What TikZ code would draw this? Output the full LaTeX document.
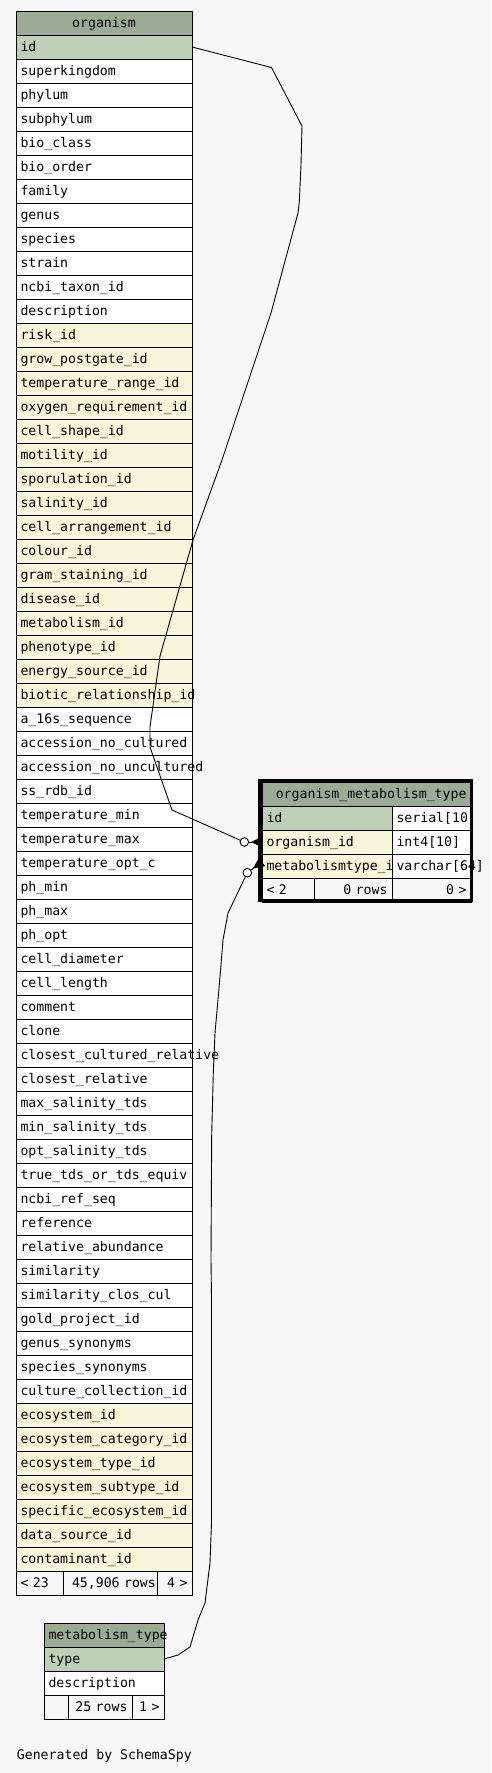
\documentclass[tikz,border=0pt]{standalone}
\usepackage{fontspec}
\usepackage{tikz}
\usetikzlibrary{arrows.meta}
\usepackage{xcolor}
\newfontfamily\schemafont{DejaVu Sans Mono}[HyphenChar=None, WordSpace={1,0,0}]
\definecolor{headcolor}{HTML}{9BAB96}
\definecolor{pkcolor}{HTML}{BED1B8}
\definecolor{fkcolor}{HTML}{F4F7DA}
\definecolor{bgcolor}{HTML}{F7F7F7}

\begin{document}
\begin{tikzpicture}[x=1pt, y=-1pt]
  \tikzset{
    cell/.style={
      draw,
      line width=1pt,
      fill=white,
      anchor=west,
      minimum height=24pt,
      text height=11pt,
      text depth=2pt,
      inner ysep=5.5pt,
      inner xsep=4.5pt,
      outer sep=0pt,
      align=left,
      font=\schemafont\fontsize{13.2pt}{15pt}\selectfont
    },
    pkcell/.style={cell, fill=pkcolor},
    fkcell/.style={cell, fill=fkcolor},
    headcell/.style={cell, fill=headcolor, align=center},
    footcell/.style={cell, fill=bgcolor},
    org/.style={text width=167pt},
    odot/.style={
      draw,
      circle,
      line width=0.9pt,
      fill=white,
      minimum size=8.6pt,
      inner sep=0pt
    },
    rel/.style={line width=0.9pt},
    crowfoot/.style={line width=0.9pt, -{Triangle[reversed, length=11pt, width=10pt]}},
    focus/.style={draw, line width=3.4pt},
    credit/.style={
      anchor=base west,
      inner sep=0pt,
      font=\schemafont\fontsize{13.2pt}{15pt}\selectfont
    }
  }

  \useasboundingbox (0,0) rectangle (491,1773);
  \fill[bgcolor] (0,0) rectangle (491,1773);

  % Table organism
  \node[headcell, org] at (16, 23) (org-head) {organism};
  \node[pkcell, org] at (16, 47) (org-id) {id};
  \node[cell, org] at (16, 71) (org-superkingdom) {superkingdom};
  \node[cell, org] at (16, 95) (org-phylum) {phylum};
  \node[cell, org] at (16, 119) (org-subphylum) {subphylum};
  \node[cell, org] at (16, 143) (org-bio-class) {bio\_class};
  \node[cell, org] at (16, 167) (org-bio-order) {bio\_order};
  \node[cell, org] at (16, 191) (org-family) {family};
  \node[cell, org] at (16, 215) (org-genus) {genus};
  \node[cell, org] at (16, 239) (org-species) {species};
  \node[cell, org] at (16, 263) (org-strain) {strain};
  \node[cell, org] at (16, 287) (org-ncbi-taxon-id) {ncbi\_taxon\_id};
  \node[cell, org] at (16, 311) (org-description) {description};
  \node[fkcell, org] at (16, 335) (org-risk-id) {risk\_id};
  \node[fkcell, org] at (16, 359) (org-grow-postgate-id) {grow\_postgate\_id};
  \node[fkcell, org] at (16, 383) (org-temperature-range-id) {temperature\_range\_id};
  \node[fkcell, org] at (16, 407) (org-oxygen-requirement-id) {oxygen\_requirement\_id};
  \node[fkcell, org] at (16, 431) (org-cell-shape-id) {cell\_shape\_id};
  \node[fkcell, org] at (16, 455) (org-motility-id) {motility\_id};
  \node[fkcell, org] at (16, 479) (org-sporulation-id) {sporulation\_id};
  \node[fkcell, org] at (16, 503) (org-salinity-id) {salinity\_id};
  \node[fkcell, org] at (16, 527) (org-cell-arrangement-id) {cell\_arrangement\_id};
  \node[fkcell, org] at (16, 551) (org-colour-id) {colour\_id};
  \node[fkcell, org] at (16, 575) (org-gram-staining-id) {gram\_staining\_id};
  \node[fkcell, org] at (16, 599) (org-disease-id) {disease\_id};
  \node[fkcell, org] at (16, 623) (org-metabolism-id) {metabolism\_id};
  \node[fkcell, org] at (16, 647) (org-phenotype-id) {phenotype\_id};
  \node[fkcell, org] at (16, 671) (org-energy-source-id) {energy\_source\_id};
  \node[fkcell, org] at (16, 695) (org-biotic-relationship-id) {biotic\_relationship\_id};
  \node[cell, org] at (16, 719) (org-a-16s-sequence) {a\_16s\_sequence};
  \node[cell, org] at (16, 743) (org-accession-no-cultured) {accession\_no\_cultured};
  \node[cell, org] at (16, 767) (org-accession-no-uncultured) {accession\_no\_uncultured};
  \node[cell, org] at (16, 791) (org-ss-rdb-id) {ss\_rdb\_id};
  \node[cell, org] at (16, 815) (org-temperature-min) {temperature\_min};
  \node[cell, org] at (16, 839) (org-temperature-max) {temperature\_max};
  \node[cell, org] at (16, 863) (org-temperature-opt-c) {temperature\_opt\_c};
  \node[cell, org] at (16, 887) (org-ph-min) {ph\_min};
  \node[cell, org] at (16, 911) (org-ph-max) {ph\_max};
  \node[cell, org] at (16, 935) (org-ph-opt) {ph\_opt};
  \node[cell, org] at (16, 959) (org-cell-diameter) {cell\_diameter};
  \node[cell, org] at (16, 983) (org-cell-length) {cell\_length};
  \node[cell, org] at (16, 1007) (org-comment) {comment};
  \node[cell, org] at (16, 1031) (org-clone) {clone};
  \node[cell, org] at (16, 1055) (org-closest-cultured-relative) {closest\_cultured\_relative};
  \node[cell, org] at (16, 1079) (org-closest-relative) {closest\_relative};
  \node[cell, org] at (16, 1103) (org-max-salinity-tds) {max\_salinity\_tds};
  \node[cell, org] at (16, 1127) (org-min-salinity-tds) {min\_salinity\_tds};
  \node[cell, org] at (16, 1151) (org-opt-salinity-tds) {opt\_salinity\_tds};
  \node[cell, org] at (16, 1175) (org-true-tds-or-tds-equiv) {true\_tds\_or\_tds\_equiv};
  \node[cell, org] at (16, 1199) (org-ncbi-ref-seq) {ncbi\_ref\_seq};
  \node[cell, org] at (16, 1223) (org-reference) {reference};
  \node[cell, org] at (16, 1247) (org-relative-abundance) {relative\_abundance};
  \node[cell, org] at (16, 1271) (org-similarity) {similarity};
  \node[cell, org] at (16, 1295) (org-similarity-clos-cul) {similarity\_clos\_cul};
  \node[cell, org] at (16, 1319) (org-gold-project-id) {gold\_project\_id};
  \node[cell, org] at (16, 1343) (org-genus-synonyms) {genus\_synonyms};
  \node[cell, org] at (16, 1367) (org-species-synonyms) {species\_synonyms};
  \node[cell, org] at (16, 1391) (org-culture-collection-id) {culture\_collection\_id};
  \node[fkcell, org] at (16, 1415) (org-ecosystem-id) {ecosystem\_id};
  \node[fkcell, org] at (16, 1439) (org-ecosystem-category-id) {ecosystem\_category\_id};
  \node[fkcell, org] at (16, 1463) (org-ecosystem-type-id) {ecosystem\_type\_id};
  \node[fkcell, org] at (16, 1487) (org-ecosystem-subtype-id) {ecosystem\_subtype\_id};
  \node[fkcell, org] at (16, 1511) (org-specific-ecosystem-id) {specific\_ecosystem\_id};
  \node[fkcell, org] at (16, 1535) (org-data-source-id) {data\_source\_id};
  \node[fkcell, org] at (16, 1559) (org-contaminant-id) {contaminant\_id};
  \node[footcell, text width=38pt] at (16, 1583) (org-foot-l) {<~23};
  \node[footcell, text width=76pt, inner xsep=9pt, align=right] at (63, 1583) (org-foot-m) {45,906~rows};
  \node[footcell, text width=26pt, align=right] at (157, 1583) (org-foot-r) {4~>};

  % Table organism_metabolism_type
  \node[headcell, text width=200pt, align=right] at (262, 794) (omt-head) {organism\_metabolism\_type};
  \node[pkcell, text width=121pt] at (262, 818) (omt-id) {id};
  \node[cell, text width=70pt] at (392, 818) (omt-id-type) {serial[10]};
  \node[fkcell, text width=121pt] at (262, 842) (omt-org) {organism\_id};
  \node[cell, text width=70pt] at (392, 842) (omt-org-type) {int4[10]};
  \node[fkcell, text width=121pt] at (262, 866) (omt-mt) {metabolismtype\_id};
  \node[cell, text width=70pt] at (392, 866) (omt-mt-type) {varchar[64]};
  \node[footcell, text width=43pt] at (262, 890) (omt-foot-l) {<~2};
  \node[footcell, text width=69pt, align=right] at (314, 890) (omt-foot-m) {0~rows};
  \node[footcell, text width=70pt, align=right] at (392, 890) (omt-foot-r) {0~>};
  \draw[focus] ([shift={(-2.2pt,1.2pt)}]omt-head.north west) rectangle ([shift={(0.7pt,1.4pt)}]omt-foot-r.south east);

  % Table metabolism_type
  \node[headcell, text width=111pt] at (44, 1635) (mt-head) {metabolism\_type};
  \node[pkcell, text width=111pt] at (44, 1659) (mt-type) {type};
  \node[cell, text width=111pt] at (44, 1683) (mt-description) {description};
  \node[footcell, text width=15pt] at (44, 1707) (mt-foot-l) {};
  \node[footcell, text width=55pt, align=right] at (68, 1707) (mt-foot-m) {25~rows};
  \node[footcell, text width=23pt, align=right] at (132, 1707) (mt-foot-r) {1~>};

  % Relationships
  \node[odot] at (244.3, 842) (omt-org-dot) {};
  \node[odot] at (247.3, 872.7) (omt-mt-dot) {};
  \draw[rel] (org-id.east) -- (271.5,67.5) -- (302,126) -- (301,165) -- (299.3,202)
    -- (298,213) -- (271,313) -- (222,460) -- (193,540) -- (160,656) -- (150,727)
    -- (150,747) -- (172,810) -- (omt-org-dot);
  \draw[crowfoot] (omt-org-dot) -- (omt-org.west);
  \draw[rel] (mt-type.east) -- (178,1655) -- (190,1647) -- (198,1620) -- (205,1603)
    -- (210,1563) -- (211.5,1523) -- (211.5,1297) -- (211,1260) -- (211.7,1135)
    -- (213.3,1073) -- (215,1033) -- (220,977) -- (223,940) -- (228,913) -- (omt-mt-dot);
  \draw[crowfoot] (omt-mt-dot) -- ([yshift=4pt]omt-mt.west);

  \node[credit] at (16.7, 1759.3) (credit) {Generated by SchemaSpy};
\end{tikzpicture}
\end{document}
